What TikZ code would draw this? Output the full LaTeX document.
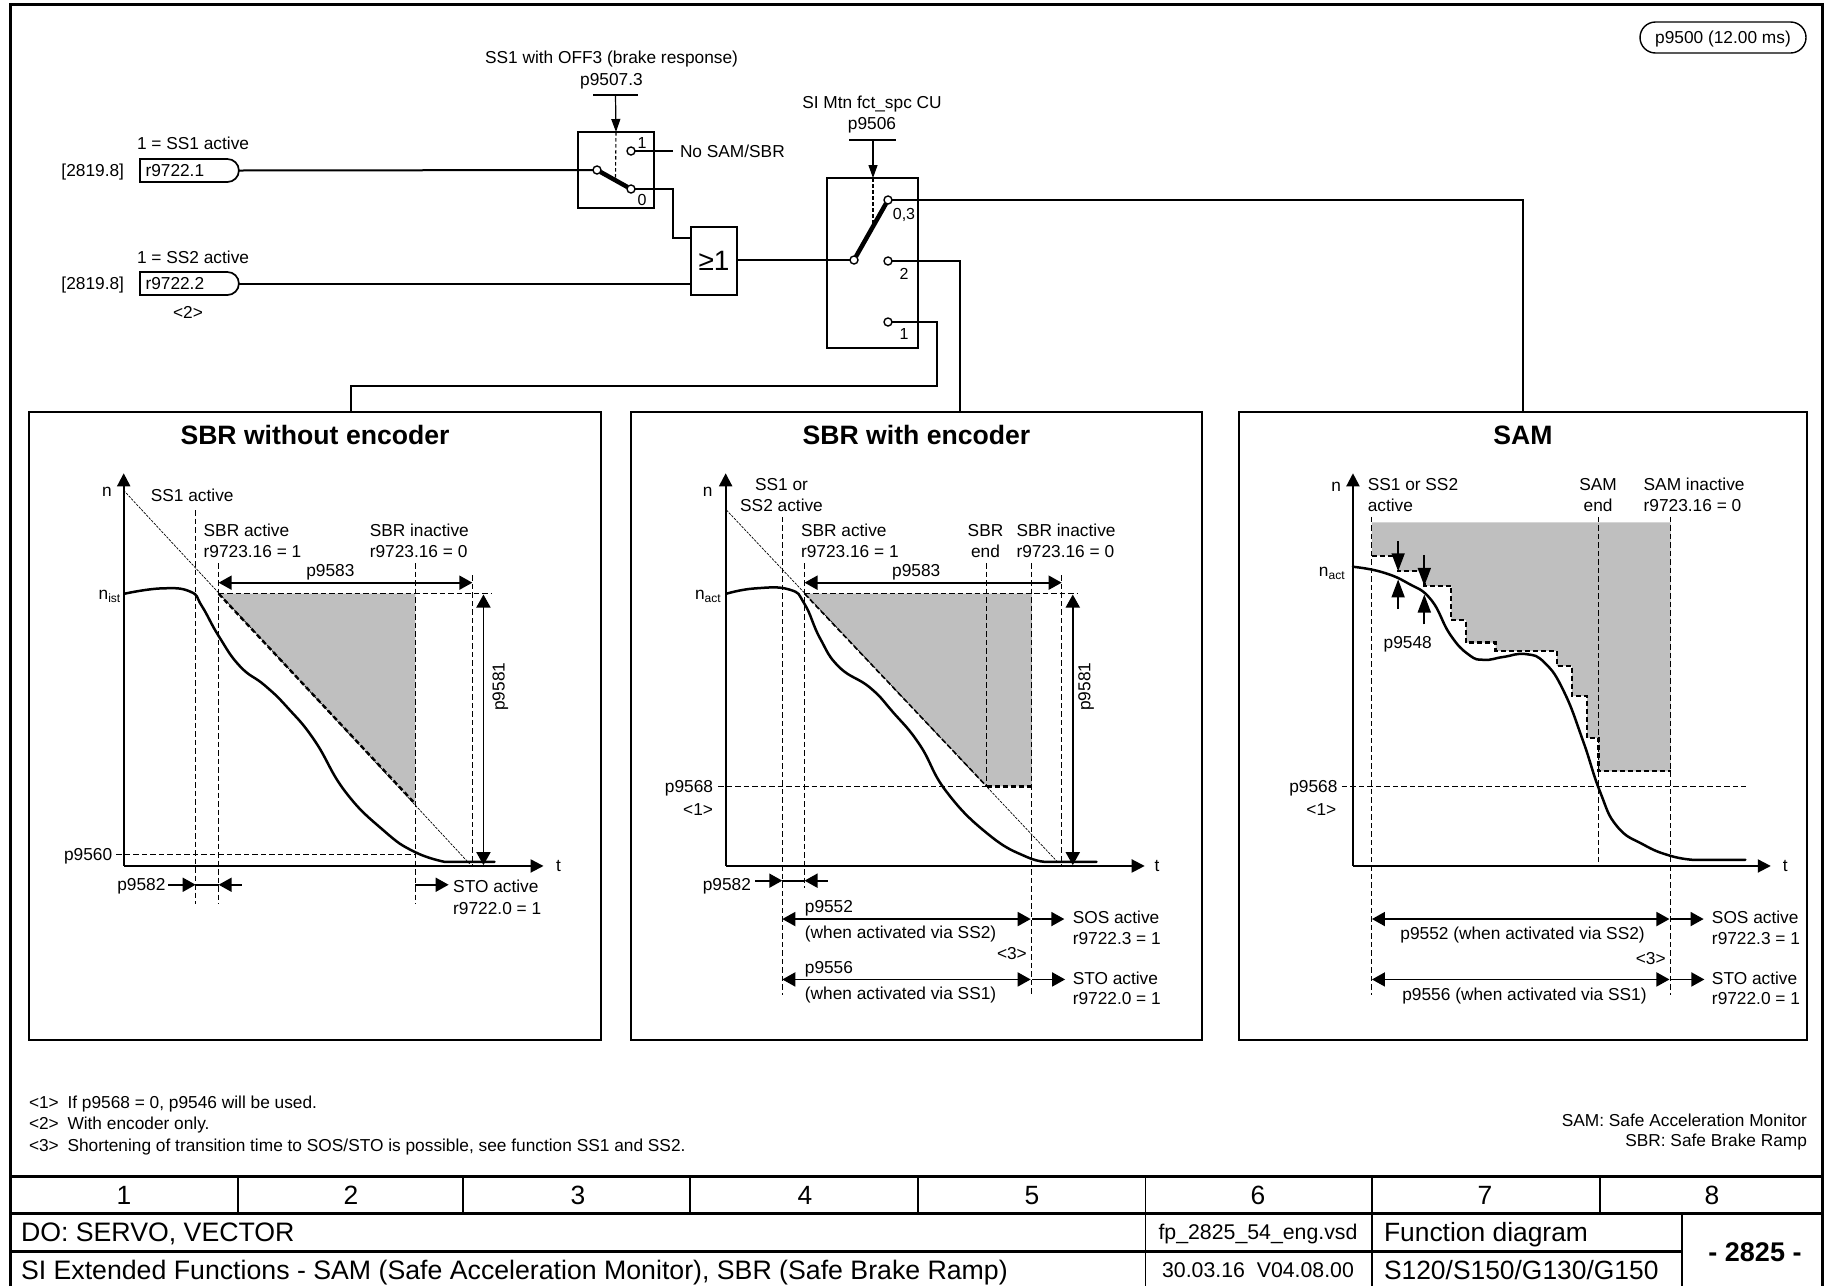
\documentclass[tikz,border=0pt]{standalone}
\usepackage{fontspec}
\setmainfont{Liberation Sans}
\usetikzlibrary{arrows.meta,shapes.misc}
\tikzset{
  every node/.style={inner sep=0pt,outer sep=0pt},
  txt/.style={font=\fontsize{17.3}{20}\selectfont,text height=12.4pt,text depth=0pt},
  lft/.style={txt,anchor=west},
  rgt/.style={txt,anchor=east},
  ttl/.style={font=\bfseries\fontsize{26.6}{30}\selectfont,text height=19pt,text depth=0pt},
  foot/.style={font=\fontsize{17.3}{20}\selectfont,text height=12.4pt,text depth=0pt},
  tb/.style={font=\fontsize{26.4}{30}\selectfont,text height=19pt,text depth=0pt},
  tbw/.style={font=\fontsize{26.7}{30}\selectfont,text height=19pt,text depth=0pt},
  tbs/.style={font=\fontsize{21.3}{24}\selectfont,text height=15pt,text depth=0pt},
  blk/.style={draw,line width=1.7pt,fill=white},
  panel/.style={draw,line width=1.7pt,minimum width=#1,minimum height=628pt},
  term/.style={circle,draw,line width=1.4pt,fill=white,minimum size=8pt},
  signal/.style={txt,draw,line width=1.7pt,rounded rectangle,rounded rectangle west arc=none,minimum width=99pt,minimum height=23pt},
  wire/.style={line width=2pt},
  arm/.style={line width=4.5pt},
  ctl/.style={line width=1.2pt,-{Triangle[length=13pt,width=9pt]}},
  stub/.style={line width=2pt},
  ctldash/.style={line width=1.1pt,dash pattern=on 3.5pt off 2.5pt},
  axis/.style={line width=2pt,-{Triangle[length=13pt,width=13pt]}},
  dim/.style={line width=1.8pt,-{Triangle[length=13pt,width=14pt]}},
  ddim/.style={line width=1.8pt,{Triangle[length=13pt,width=14pt]}-{Triangle[length=13pt,width=14pt]}},
  gap/.style={line width=1.8pt,-{Triangle[length=18pt,width=13pt]}},
  grd/.style={line width=1pt,dash pattern=on 5.5pt off 3pt},
  diag/.style={line width=.7pt,dash pattern=on 2.5pt off 1.2pt},
  limit/.style={line width=2.4pt,dash pattern=on 5pt off 3pt},
  speed/.style={line width=2.5pt,line join=round,line cap=round},
  zone/.style={fill=black!25},
}
\newcommand{\nsub}[1]{n\raisebox{-3pt}{\fontsize{12}{12}\selectfont #1}}
\begin{document}
\begin{tikzpicture}[x=1pt,y=-1pt]
\useasboundingbox (0,0) rectangle (1825,1286);
\fill[white] (0,0) rectangle (1825,1286);
% outer frame
\draw[line width=3pt] (10,1286) -- (10,4) -- (1822,4) -- (1822,1286);
% panels
\node[panel=572pt] (pa) at (315,726) {};
\node[panel=571pt] (pb) at (916.5,726) {};
\node[panel=568pt] (pc) at (1523,726) {};
% pill
\node[txt,draw,line width=1.4pt,rounded rectangle,minimum width=166pt,minimum height=31pt] (pill) at (1723,37.5) {p9500 (12.00 ms)};
% signal sources
\node[signal] (sa) at (188.5,170.5) {\makebox[86pt][l]{r9722.1}};
\node[signal] (sb) at (188.5,283.5) {\makebox[86pt][l]{r9722.2}};
\node[rgt] (refa) at (124,170.5) {[2819.8]};
\node[rgt] (refb) at (124,283.5) {[2819.8]};
\node[lft] (la) at (137,143) {1 = SS1 active};
\node[lft] (lb) at (137,257) {1 = SS2 active};
\node[txt] (two) at (188,312) {<2>};
% switch 1
\node[blk,minimum width=76pt,minimum height=76pt] (swa) at (616,170) {};
\node[txt] (swatxt) at (611.5,57) {SS1 with OFF3 (brake response)};
\node[txt] (swapar) at (611.5,79) {p9507.3};
\coordinate (swastub) at (615.5,95);
\draw[stub] (593,95) -- (638,95);
\draw[ctl] (swastub) -- (swa.north);
\draw[ctldash] (swa.north) -- (615.5,178);
\node[term] (apiv) at (597,170) {};
\node[term] (aone) at (631,151) {};
\node[term] (azero) at (631,189) {};
\draw[arm] (apiv) -- (azero);
\node[txt,font=\fontsize{16}{18}\selectfont] (aonel) at (642,142) {1};
\node[txt,font=\fontsize{16}{18}\selectfont] (azerol) at (642,199) {0};
\coordinate (nosam) at (672.5,151);
\draw[wire] (aone) -- (nosam);
\node[lft] (nosamt) at (680,151) {No SAM/SBR};
% OR
\node[blk,minimum width=46pt,minimum height=68pt] (or) at (714,261) {};
\node[font=\fontsize{28}{30}\selectfont,text height=20pt,text depth=0pt] (ortxt) at (714,260) {≥1};
\draw[wire] (sa.east) -- (apiv);
\coordinate (ja) at (672.5,238);
\draw[wire] (azero) -| (ja) -- (ja -| or.west);
\draw[wire] (sb.east) -- (sb.east -| or.west);
% switch 2
\node[blk,minimum width=91pt,minimum height=170pt] (swb) at (872.5,263) {};
\node[txt] (swbtxt) at (872,102) {SI Mtn fct\_spc CU};
\node[txt] (swbpar) at (872,123) {p9506};
\coordinate (swbstub) at (873,140);
\draw[stub] (849,140) -- (896,140);
\draw[ctl] (swbstub) -- (873,178);
\draw[ctldash] (873,178) -- (873,224);
\node[term] (bpiv) at (854,260) {};
\node[term] (bb) at (888,200) {};
\node[term] (bc) at (888,261) {};
\node[term] (bd) at (888,322) {};
\draw[arm] (bpiv) -- (bb);
\node[txt,font=\fontsize{16}{18}\selectfont] (bbl) at (904,213) {0,3};
\node[txt,font=\fontsize{16}{18}\selectfont] (bcl) at (904,273) {2};
\node[txt,font=\fontsize{16}{18}\selectfont] (bdl) at (904,333) {1};
\draw[wire] (or.east |- bpiv) -- (bpiv);
\coordinate (jb) at (1523,200);
\draw[wire] (bb) -- (jb) -- (jb |- pc.north);
\coordinate (jc) at (960,261);
\draw[wire] (bc) -- (jc) -- (jc |- pb.north);
\coordinate (jd) at (937,322);
\coordinate (je) at (937,386);
\coordinate (jf) at (351,386);
\draw[wire] (bd) -- (jd) -- (je) -- (jf) -- (jf |- pa.north);

% ---------- panel A
\node[ttl] (ta) at (315,435) {SBR without encoder};
\begin{scope}[shift={(20,410)},xscale=0.3827,yscale=0.4082]
\fill[zone] (519,450) -- (1033,450) -- (1033,965) -- cycle;
\draw[diag] (271,197) -- (1175,1112);
\draw[limit] (519,450) -- (1033,965);
\draw[grd] (459,245) -- (459,1210);
\draw[grd] (519,375) -- (519,1210);
\draw[grd] (1033,375) -- (1033,1210);
\draw[grd] (1182,405) -- (1182,1115);
\draw[grd] (519,450) -- (1232,450);
\draw[grd] (252,1089) -- (1033,1089);
\draw[speed] plot[smooth,tension=.8] coordinates {(273,450) (370,437) (445,445) (475,480) (520,555) (575,628) (640,675) (700,730) (770,810) (850,935) (950,1030) (1030,1082) (1110,1107)} -- (1240,1107);
\draw[axis] (271,1117) -- (271,155);
\draw[axis] (271,1117) -- (1368,1117);
\draw[ddim] (519,423) -- (1182,423);
\draw[ddim] (1211,452) -- (1211,1115);
\draw[dim] (388,1163) -- (459,1163);
\draw[line width=1.8pt] (459,1163) -- (519,1163);
\draw[dim] (580,1163) -- (519,1163);
\draw[dim] (1033,1163) -- (1120,1163);
\node[txt] (an) at (227,197) {n};
\node[txt] (at) at (1407,1115) {t};
\node[lft] (a1) at (342,208) {SS1 active};
\node[lft] (a2) at (480,294) {SBR active};
\node[lft] (a3) at (480,345) {r9723.16 = 1};
\node[lft] (a4) at (914,294) {SBR inactive};
\node[lft] (a5) at (914,345) {r9723.16 = 0};
\node[txt] (a6) at (811,393) {p9583};
\node[txt,rotate=90] (a7) at (1250,678) {p9581};
\node[rgt] (a8) at (262,448) {\nsub{ist}};
\node[rgt] (a9) at (241,1089) {p9560};
\node[rgt] (a10) at (380,1162) {p9582};
\node[lft] (a11) at (1132,1168) {STO active};
\node[lft] (a12) at (1132,1220) {r9722.0 = 1};
\end{scope}

% ---------- panel B
\node[ttl] (tb) at (916.5,435) {SBR with encoder};
\begin{scope}[shift={(625,410)},xscale=0.3827,yscale=0.4082]
\fill[zone] (469,450) -- (1063,450) -- (1063,922) -- (945,922) -- cycle;
\draw[diag] (265,245) -- (1130,1107);
\draw[limit,line width=1.6pt] (469,450) -- (945,922);
\draw[grd] (411,262) -- (411,1432);
\draw[grd] (469,375) -- (469,1172);
\draw[grd] (945,375) -- (945,922);
\draw[grd] (1063,375) -- (1063,1432);
\draw[grd] (1141,405) -- (1141,1115);
\draw[grd] (469,450) -- (1180,450);
\draw[grd] (243,922) -- (945,922);
\draw[limit] (945,922) -- (1063,922);
\draw[speed] plot[smooth,tension=.8] coordinates {(265,450) (340,437) (430,440) (469,475) (510,560) (560,630) (640,680) (700,740) (770,820) (840,935) (950,1040) (1050,1095) (1110,1107)} -- (1232,1107);
\draw[axis] (263,1117) -- (263,155);
\draw[axis] (263,1117) -- (1358,1117);
\draw[ddim] (469,423) -- (1141,423);
\draw[ddim] (1170,452) -- (1170,1115);
\draw[dim] (340,1153) -- (411,1153);
\draw[line width=1.8pt] (411,1153) -- (469,1153);
\draw[dim] (530,1153) -- (469,1153);
\draw[ddim] (411,1247) -- (1060,1247);
\draw[dim] (1063,1247) -- (1148,1247);
\draw[ddim] (411,1395) -- (1060,1395);
\draw[dim] (1063,1395) -- (1150,1395);
\node[txt] (bn) at (216,197) {n};
\node[txt] (bt) at (1390,1115) {t};
\node[txt] (b1) at (409,183) {SS1 or};
\node[txt] (b2) at (409,234) {SS2 active};
\node[lft] (b3) at (460,294) {SBR active};
\node[lft] (b4) at (460,345) {r9723.16 = 1};
\node[txt] (b5) at (942,294) {SBR};
\node[txt] (b6) at (942,345) {end};
\node[lft] (b7) at (1023,294) {SBR inactive};
\node[lft] (b8) at (1023,345) {r9723.16 = 0};
\node[txt] (b9) at (761,393) {p9583};
\node[txt,rotate=90] (b10) at (1200,678) {p9581};
\node[rgt] (b11) at (250,448) {\nsub{act}};
\node[rgt] (b12) at (230,922) {p9568};
\node[rgt] (b13) at (230,977) {<1>};
\node[rgt] (b14) at (329,1162) {p9582};
\node[lft] (b15) at (470,1215) {p9552};
\node[lft] (b16) at (470,1280) {(when activated via SS2)};
\node[lft] (b17) at (1170,1242) {SOS active};
\node[lft] (b18) at (1170,1293) {r9722.3 = 1};
\node[rgt] (b19) at (1050,1332) {<3>};
\node[lft] (b20) at (470,1365) {p9556};
\node[lft] (b21) at (470,1428) {(when activated via SS1)};
\node[lft] (b22) at (1170,1392) {STO active};
\node[lft] (b23) at (1170,1440) {r9722.0 = 1};
\end{scope}

% ---------- panel C
\node[ttl] (tc) at (1523,435) {SAM};
\begin{scope}[shift={(1230,410)},xscale=0.3795,yscale=0.4082]
\fill[zone] (374,275) -- (1161,275) -- (1161,885) -- (971,885) -- (971,803) -- (941,803) -- (941,700) -- (901,700) -- (901,627) -- (861,627) -- (861,590) -- (700,590) -- (700,570) -- (622,570) -- (622,515) -- (583,515) -- (583,431) -- (512,431) -- (512,395) -- (443,395) -- (443,357) -- (374,357) -- cycle;
\draw[limit] (374,357) -- (443,357) -- (443,395) -- (512,395) -- (512,431) -- (583,431) -- (583,515) -- (622,515) -- (622,570) -- (700,570) -- (700,590) -- (861,590) -- (861,627) -- (901,627) -- (901,700) -- (941,700) -- (941,803) -- (971,803) -- (971,885) -- (1161,885);
\draw[grd] (374,262) -- (374,1432);
\draw[grd] (971,262) -- (971,1115);
\draw[grd] (1161,262) -- (1161,1432);
\draw[grd] (295,922) -- (1360,922);
\draw[speed] plot[smooth,tension=.8] coordinates {(324,384) (400,397) (470,425) (530,465) (580,550) (630,600) (670,612) (720,605) (780,598) (830,620) (880,690) (930,810) (975,935) (1020,1020) (1090,1065) (1160,1092) (1220,1102)} -- (1358,1102);
\draw[axis] (324,1117) -- (324,155);
\draw[axis] (324,1117) -- (1425,1117);
\draw[gap] (443,322) -- (443,395);
\draw[gap] (443,488) -- (443,415);
\draw[gap] (512,355) -- (512,431);
\draw[gap] (512,525) -- (512,452);
\draw[ddim] (374,1247) -- (1158,1247);
\draw[dim] (1161,1247) -- (1248,1247);
\draw[ddim] (374,1395) -- (1158,1395);
\draw[dim] (1161,1395) -- (1250,1395);
\node[txt] (cn) at (280,185) {n};
\node[txt] (ct) at (1463,1115) {t};
\node[lft] (c1) at (363,183) {SS1 or SS2};
\node[lft] (c2) at (363,234) {active};
\node[txt] (c3) at (970,183) {SAM};
\node[txt] (c4) at (970,234) {end};
\node[lft] (c5) at (1090,183) {SAM inactive};
\node[lft] (c6) at (1090,234) {r9723.16 = 0};
\node[lft] (c7) at (405,568) {p9548};
\node[rgt] (c8) at (302,392) {\nsub{act}};
\node[rgt] (c9) at (283,922) {p9568};
\node[rgt] (c10) at (280,977) {<1>};
\node[txt] (c11) at (771,1282) {p9552 (when activated via SS2)};
\node[lft] (c12) at (1270,1242) {SOS active};
\node[lft] (c13) at (1270,1293) {r9722.3 = 1};
\node[rgt] (c14) at (1148,1342) {<3>};
\node[txt] (c15) at (776,1432) {p9556 (when activated via SS1)};
\node[lft] (c16) at (1270,1392) {STO active};
\node[lft] (c17) at (1270,1440) {r9722.0 = 1};
\end{scope}

% ---------- footnotes
\node[foot,anchor=west] (f1a) at (29,1102) {<1>};
\node[foot,anchor=west] (f1) at (67.5,1102) {If p9568 = 0, p9546 will be used.};
\node[foot,anchor=west] (f2a) at (29,1123) {<2>};
\node[foot,anchor=west] (f2) at (67.5,1123) {With encoder only.};
\node[foot,anchor=west] (f3a) at (29,1145) {<3>};
\node[foot,anchor=west] (f3) at (67.5,1145) {Shortening of transition time to SOS/STO is possible, see function SS1 and SS2.};
\node[foot,anchor=east] (f4) at (1807,1120) {SAM: Safe Acceleration Monitor};
\node[foot,anchor=east] (f5) at (1807,1140) {SBR: Safe Brake Ramp};

% ---------- title block
\draw[line width=3pt] (10,1176) -- (1822,1176);
\draw[line width=3pt] (10,1213) -- (1822,1213);
\draw[line width=3pt] (10,1251) -- (1682,1251);
\foreach \xx in {238,463,690,918,1600} \draw[line width=1.5pt] (\xx,1176) -- (\xx,1213);
\foreach \xx in {1145.5,1372} \draw[line width=1.5pt] (\xx,1176) -- (\xx,1286);
\draw[line width=1.5pt] (1682,1213) -- (1682,1286);
\node[tb] (n1) at (124,1194.5) {1};
\node[tb] (n2) at (351,1194.5) {2};
\node[tb] (n3) at (578,1194.5) {3};
\node[tb] (n4) at (805,1194.5) {4};
\node[tb] (n5) at (1032,1194.5) {5};
\node[tb] (n6) at (1258,1194.5) {6};
\node[tb] (n7) at (1485,1194.5) {7};
\node[tb] (n8) at (1712,1194.5) {8};
\node[tbw,anchor=west] (d1) at (21,1232) {DO: SERVO, VECTOR};
\node[tbw,anchor=west] (d2) at (21,1270) {SI Extended Functions - SAM (Safe Acceleration Monitor), SBR (Safe Brake Ramp)};
\node[tbs] (d3) at (1258,1232) {fp\_2825\_54\_eng.vsd};
\node[tbs] (d4) at (1258,1270) {30.03.16\ \ V04.08.00};
\node[tb,anchor=west] (d5) at (1384,1232) {Function diagram};
\node[tb,anchor=west] (d6) at (1384,1270) {S120/S150/G130/G150};
\node[tb,font=\bfseries\fontsize{27}{30}\selectfont] (d7) at (1755,1252) {- 2825 -};
\end{tikzpicture}
\end{document}
